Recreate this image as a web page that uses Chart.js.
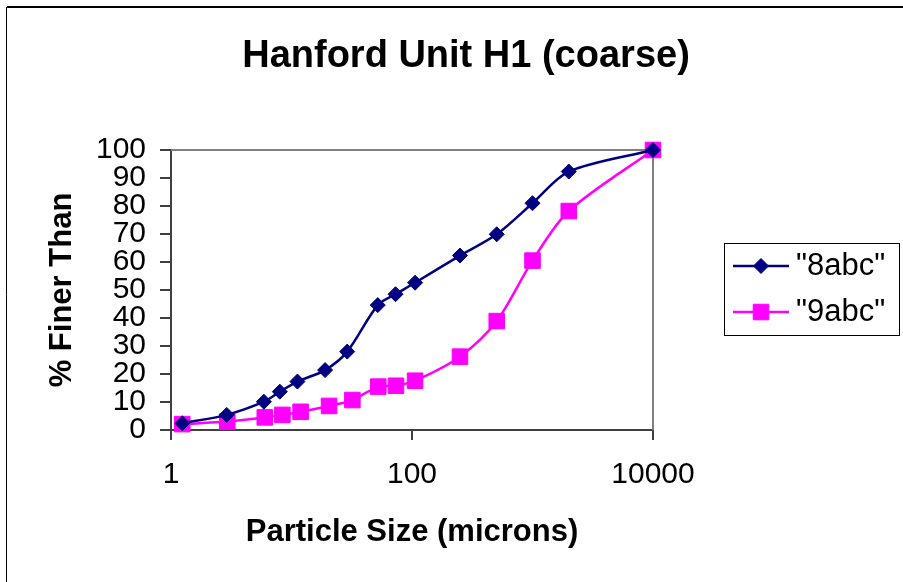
<!DOCTYPE html>
<html>
<head>
<meta charset="utf-8">
<title>Hanford Unit H1 (coarse)</title>
<script src="https://cdn.jsdelivr.net/npm/chart.js@4.4.1/dist/chart.umd.min.js"></script>
<style>
    html, body { margin: 0; background: #fff; overflow: hidden; }
    #caixa { position: relative; width: 903px; height: 582px; }
    #caixa canvas { display: block; }
</style>
</head>
<body>
<div id="caixa">
    <canvas id="grafico"></canvas>
</div>
<script>
// particle size (microns) and % finer
const tamanhos8 = [1.24, 2.9, 5.9, 8.0, 11.2, 19, 29, 52, 73, 106, 250, 505, 1000, 2000, 10000];
const finos8 = [2.4, 5.4, 10.1, 13.7, 17.3, 21.4, 28, 44.6, 48.5, 52.6, 62.3, 69.9, 81, 92.3, 100];
const tamanhos9 = [1.24, 2.93, 6.0, 8.4, 11.9, 20.5, 32, 52.5, 73.6, 106, 250, 505, 1000, 2000, 10000];
const finos9 = [2.1, 3.0, 4.5, 5.4, 6.5, 8.6, 10.7, 15.5, 15.8, 17.6, 26.2, 38.9, 60.5, 78.2, 100];
const nomes = ['"8abc"', '"9abc"'];
const ticksX = [1, 100, 10000];
const ticksY = [0, 10, 20, 30, 40, 50, 60, 70, 80, 90, 100];

const fonte = 'Arial, "Liberation Sans", sans-serif';
Chart.defaults.font.family = fonte;
Chart.defaults.color = '#000';

function pares(xs, ys) {
    return xs.map((x, i) => ({ x: x, y: ys[i] }));
}

// outer chart border (top and left only, the rest is cut off) and grey plot frame
const molduras = {
    id: 'molduras',
    beforeDatasetsDraw(chart) {
        const a = chart.chartArea;
        const ctx = chart.ctx;
        ctx.save();
        ctx.strokeStyle = '#000';
        ctx.lineWidth = 2;
        ctx.beginPath();
        ctx.moveTo(chart.width, 7);
        ctx.lineTo(7, 7);
        ctx.stroke();
        ctx.lineWidth = 1;
        ctx.beginPath();
        ctx.moveTo(6.5, 7);
        ctx.lineTo(6.5, chart.height);
        ctx.stroke();
        ctx.strokeStyle = '#808080';
        ctx.lineWidth = 2;
        ctx.beginPath();
        ctx.moveTo(a.left, a.top);
        ctx.lineTo(a.right, a.top);
        ctx.lineTo(a.right, a.bottom);
        ctx.stroke();
        ctx.restore();
    }
};

// marker like the chart points, drawn by hand for the legend
function desenharMarcador(ctx, estilo, x, y, r) {
    ctx.beginPath();
    if (estilo === 'rectRot') {
        ctx.moveTo(x - r, y);
        ctx.lineTo(x, y - r);
        ctx.lineTo(x + r, y);
        ctx.lineTo(x, y + r);
        ctx.closePath();
    } else {
        const l = r * Math.SQRT1_2;
        ctx.rect(x - l, y - l, 2 * l, 2 * l);
    }
    ctx.fill();
    ctx.stroke();
}

// Excel style legend: box, short line with marker, label
const legendaCaixa = {
    id: 'legendaCaixa',
    afterDraw(chart) {
        const ctx = chart.ctx;
        const a = chart.chartArea;
        const x0 = a.right + 71, y0 = 243, w = 175, h = 92;
        ctx.save();
        ctx.strokeStyle = '#000';
        ctx.lineWidth = 1;
        ctx.strokeRect(x0 + 0.5, y0 + 0.5, w, h);
        chart.data.datasets.forEach((ds, i) => {
            const y = y0 + 23 + i * 46;
            ctx.strokeStyle = ds.borderColor;
            ctx.lineWidth = ds.borderWidth;
            ctx.beginPath();
            ctx.moveTo(x0 + 9, y);
            ctx.lineTo(x0 + 65, y);
            ctx.stroke();
            ctx.fillStyle = ds.pointBackgroundColor;
            ctx.strokeStyle = ds.pointBorderColor;
            ctx.lineWidth = ds.pointBorderWidth;
            desenharMarcador(ctx, ds.pointStyle, x0 + 37, y, ds.pointRadius);
            ctx.fillStyle = '#000';
            ctx.font = '31px ' + fonte;
            ctx.textBaseline = 'middle';
            ctx.textAlign = 'left';
            ctx.fillText(ds.label, x0 + 72, y);
        });
        ctx.restore();
    }
};

new Chart(document.getElementById('grafico').getContext('2d'), {
    type: 'line',
    data: {
        datasets: [{
            label: nomes[0],
            data: pares(tamanhos8, finos8),
            borderColor: '#000080',
            borderWidth: 2.5,
            pointStyle: 'rectRot',
            pointRadius: 7.5,
            pointBorderWidth: 1,
            pointBackgroundColor: '#000080',
            pointBorderColor: '#000080',
            tension: 0.3,
            clip: false,
            yAxisID: 'y'
        }, {
            label: nomes[1],
            data: pares(tamanhos9, finos9),
            borderColor: '#FF00FF',
            borderWidth: 2.5,
            pointStyle: 'rect',
            pointRadius: 11,
            pointBorderWidth: 1,
            pointBackgroundColor: '#FF00FF',
            pointBorderColor: '#FF00FF',
            tension: 0.3,
            clip: false,
            yAxisID: 'y'
        }]
    },
    options: {
        responsive: true,
        maintainAspectRatio: false,
        animation: false,
        layout: { padding: { left: 29, right: 0, top: 0, bottom: 0 } },
        plugins: {
            legend: { display: false },
            tooltip: { enabled: false },
            title: {
                display: true,
                text: 'Hanford Unit H1 (coarse)',
                color: '#000',
                font: { size: 38, weight: 'bold' },
                padding: { top: 34, bottom: 70.4 }
            }
        },
        scales: {
            x: {
                type: 'logarithmic',
                min: 1,
                max: 10000,
                afterBuildTicks: (s) => { s.ticks = ticksX.map(v => ({ value: v })); },
                afterFit: (s) => { s.height = 152; },
                ticks: {
                    font: { size: 30 },
                    padding: 17,
                    maxRotation: 0,
                    autoSkip: false,
                    callback: (v) => String(v)
                },
                grid: { drawOnChartArea: false, drawTicks: true, tickLength: 10, color: '#404040', lineWidth: 2 },
                border: { display: true, color: '#404040', width: 2 },
                title: {
                    display: true,
                    text: 'Particle Size (microns)',
                    font: { size: 31, weight: 'bold' },
                    padding: { top: 0, bottom: 31.4 }
                }
            },
            y: {
                position: 'left',
                min: 0,
                max: 100,
                afterBuildTicks: (s) => { s.ticks = ticksY.map(v => ({ value: v })); },
                afterFit: (s) => { s.width = 142; },
                ticks: { font: { size: 30 }, padding: 14, autoSkip: false },
                grid: { drawOnChartArea: false, drawTicks: true, tickLength: 11, color: '#404040', lineWidth: 2 },
                border: { display: true, color: '#404040', width: 2 },
                title: {
                    display: true,
                    text: '% Finer Than',
                    font: { size: 31, weight: 'bold' },
                    padding: { top: 14.4, bottom: 0 }
                }
            },
            espacoLegenda: {
                type: 'linear',
                axis: 'y',
                position: 'right',
                display: true,
                afterFit: (s) => { s.width = 250; },
                ticks: { display: false },
                grid: { display: false },
                border: { display: false }
            }
        }
    },
    plugins: [molduras, legendaCaixa]
});
</script>
</body>
</html>
